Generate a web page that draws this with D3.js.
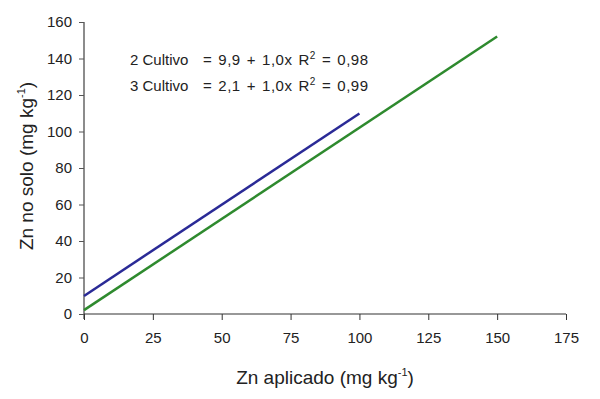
<!DOCTYPE html>
<html>
<head>
<meta charset="utf-8">
<script src="https://cdn.jsdelivr.net/npm/d3@7"></script>
<style>
  body { margin: 0; background: #fff; }
  svg { display: block; font-family: "Liberation Sans", Arial, sans-serif; }
</style>
</head>
<body>
<svg id="canvas" width="600" height="399"></svg>
<script>
// data
const seriesNames = ['2 Cultivo', '3 Cultivo'];
const intercepts = [9.9, 2.1];
const slopes = [1.0, 1.0];
const xMax = [100, 150];
const eqText = ['= 9,9 + 1,0x', '= 2,1 + 1,0x'];
const r2Text = ['= 0,98', '= 0,99'];
const seriesColors = ['#2a2a96', '#2e8a2e'];
const xTicks = [0, 25, 50, 75, 100, 125, 150, 175];
const yTicks = [0, 20, 40, 60, 80, 100, 120, 140, 160];

const svg = d3.select('#canvas');
const margin = { left: 84, right: 34, top: 22, bottom: 85 };
const width = 600, height = 399;

const x = d3.scaleLinear().domain([0, 175]).range([margin.left, width - margin.right]);
const y = d3.scaleLinear().domain([0, 160]).range([height - margin.bottom, margin.top]);

// y axis (grey line)
const yAxis = svg.append('g')
    .attr('transform', `translate(${margin.left},0)`)
    .call(d3.axisLeft(y).tickValues(yTicks).tickSize(5).tickPadding(7));
yAxis.select('.domain').attr('stroke', '#8c8c8c').attr('stroke-width', 2)
    .attr('d', `M0,${y(160)}V${y(0) + 5}`);
yAxis.selectAll('.tick line').attr('stroke', '#555');
yAxis.selectAll('text').attr('font-size', 15).attr('fill', '#222')
    .attr('font-family', '"Liberation Sans", Arial, sans-serif');

// x axis
const xAxis = svg.append('g')
    .attr('transform', `translate(0,${y(0)})`)
    .call(d3.axisBottom(x).tickValues(xTicks).tickSize(6).tickPadding(12));
xAxis.select('.domain').attr('stroke', '#333').attr('stroke-width', 1.2)
    .attr('d', `M${x(0)},0H${x(175)}`);
xAxis.selectAll('.tick line').attr('stroke', '#333');
xAxis.selectAll('text').attr('font-size', 15).attr('fill', '#222')
    .attr('font-family', '"Liberation Sans", Arial, sans-serif');

// regression lines
const line = d3.line().x(d => x(d[0])).y(d => y(d[1]));
seriesNames.forEach((name, i) => {
    const pts = [0, xMax[i]].map(v => [v, intercepts[i] + slopes[i] * v]);
    svg.append('path')
        .datum(pts)
        .attr('d', line)
        .attr('fill', 'none')
        .attr('stroke', seriesColors[i])
        .attr('stroke-width', 2.5);
});

// equations
const eq = svg.append('g').attr('font-size', 15).attr('fill', '#222');
seriesNames.forEach((name, i) => {
    const by = 65 + i * 25.5;
    eq.append('text').attr('x', 130).attr('y', by).text(name);
    const t = eq.append('text').attr('x', 203).attr('y', by)
        .attr('letter-spacing', 0.5).attr('word-spacing', 1.4);
    t.append('tspan').text(eqText[i] + ' R');
    t.append('tspan').attr('dy', -6).attr('font-size', 10).text('2');
    t.append('tspan').attr('dy', 6).text(' ' + r2Text[i]);
});

// axis titles
const xt = svg.append('text')
    .attr('x', x(87.5)).attr('y', 384)
    .attr('text-anchor', 'middle')
    .attr('font-size', 19).attr('fill', '#222');
xt.append('tspan').text('Zn aplicado (mg kg');
xt.append('tspan').attr('dy', -8).attr('font-size', 11).text('-1');
xt.append('tspan').attr('dy', 8).text(')');

const yt = svg.append('text')
    .attr('transform', `translate(33,${y(80) - 2}) rotate(-90)`)
    .attr('text-anchor', 'middle')
    .attr('font-size', 19).attr('fill', '#222');
yt.append('tspan').text('Zn no solo (mg kg');
yt.append('tspan').attr('dy', -8).attr('font-size', 11).text('-1');
yt.append('tspan').attr('dy', 8).text(')');
</script>
</body>
</html>
